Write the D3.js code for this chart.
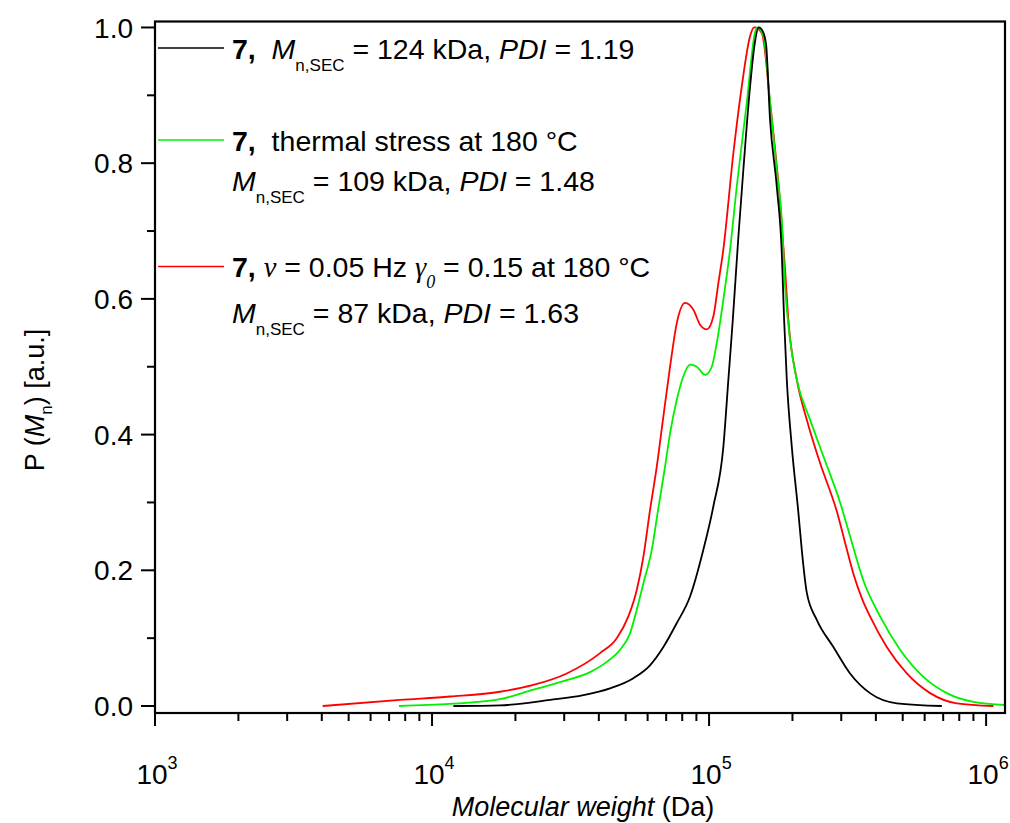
<!DOCTYPE html>
<html><head><meta charset="utf-8">
<script src="https://cdn.jsdelivr.net/npm/d3@7"></script>
<style>body{margin:0;background:#fff}svg text{font-family:"Liberation Sans",Arial,sans-serif;fill:#000}</style>
</head><body>
<svg id="chart" width="1010" height="823"></svg>
<script>
// ---- data (molecular weight in Da, normalized P) ----
const blackMW = [11940,17600,26700,35200,43900,53300,61200,68400,76400,85300,95300,103600,112600,117400,121800,127600,133000,140600,146000,151000,156000,160600,166000,175500,183000,186600,190800,198900,210200,216100,225300,244800,281000,322800,381000,476000,692000];
const blackP  = [0.0,0.001,0.009,0.016,0.026,0.041,0.060,0.087,0.122,0.161,0.230,0.294,0.382,0.481,0.569,0.692,0.791,0.913,0.975,1.0,0.995,0.975,0.864,0.766,0.668,0.569,0.481,0.382,0.284,0.230,0.167,0.127,0.087,0.048,0.019,0.004,0.0];

const greenMW = [7600,11610,17600,23210,30640,37190,42730,47720,51860,54830,57930,62110,65450,69370,72310,76440,80770,85390,90280,96740,102260,106600,112600,119100,125900,136800,146600,149400,157100,166100,175500,183000,188100,196000,207300,231500,258600,297100,328200,360600,414300,489200,593700,721500,900000,1171000];
const greenP  = [0.0,0.003,0.010,0.024,0.038,0.050,0.065,0.083,0.107,0.142,0.181,0.230,0.289,0.353,0.402,0.451,0.486,0.503,0.500,0.488,0.500,0.535,0.599,0.673,0.766,0.889,0.993,1.0,0.987,0.889,0.791,0.717,0.618,0.540,0.481,0.422,0.368,0.300,0.240,0.185,0.132,0.083,0.043,0.019,0.006,0.0015];

const redMW = [4030,7664,11610,17600,23210,30640,40420,46430,51130,54830,57930,61230,64760,68400,72310,76440,81910,87760,92800,98100,103600,108000,112600,122400,131200,140600,145400,155000,166100,180400,188100,193300,207300,225300,251600,289100,312300,331800,356700,381200,437900,517300,627900,784000,1063000];
const redP  = [0.0,0.009,0.014,0.021,0.031,0.048,0.078,0.100,0.132,0.171,0.220,0.289,0.353,0.427,0.500,0.564,0.594,0.584,0.562,0.555,0.574,0.623,0.673,0.815,0.913,0.987,1.0,0.992,0.889,0.742,0.643,0.569,0.481,0.422,0.358,0.287,0.235,0.195,0.158,0.132,0.087,0.048,0.019,0.004,0.0];

const yTicks = [0.0,0.2,0.4,0.6,0.8,1.0];
const yMinor = [0.1,0.3,0.5,0.7,0.9];
const xDecades = [3,4,5,6];

const series = [
  {mw: redMW,   p: redP,   color: "#ff0000"},
  {mw: greenMW, p: greenP, color: "#00f000"},
  {mw: blackMW, p: blackP, color: "#000000"}
];

const svg = d3.select("#chart");
const L = 155, R = 1005, T = 21.5, B = 713;
const x = d3.scaleLog().domain([1000, 1.17e6]).range([L, R]);
const y = d3.scaleLinear().domain([-0.0103, 1.0088]).range([B, T]);

// curves
const line = d3.line().x(d => x(d[0])).y(d => y(d[1])).curve(d3.curveMonotoneX);
series.forEach(s => {
  svg.append("path").datum(s.mw.map((m,i)=>[m, s.p[i]]))
    .attr("d", line).attr("fill","none").attr("stroke", s.color).attr("stroke-width", 1.8);
});

// frame
svg.append("rect").attr("x",L).attr("y",T).attr("width",R-L).attr("height",B-T)
  .attr("fill","none").attr("stroke","#000").attr("stroke-width",2.2);

// y ticks
yTicks.forEach(v => {
  svg.append("line").attr("x1",L-14).attr("x2",L).attr("y1",y(v)).attr("y2",y(v)).attr("stroke","#000").attr("stroke-width",2);
  svg.append("text").attr("x",L-22).attr("y",y(v)).attr("dy","0.36em").attr("text-anchor","end")
    .style("font-size","28px").text(v.toFixed(1));
});
yMinor.forEach(v => {
  svg.append("line").attr("x1",L-8).attr("x2",L).attr("y1",y(v)).attr("y2",y(v)).attr("stroke","#000").attr("stroke-width",2);
});
// x ticks
xDecades.forEach(d => {
  const v = Math.pow(10,d);
  svg.append("line").attr("x1",x(v)).attr("x2",x(v)).attr("y1",B).attr("y2",B+13).attr("stroke","#000").attr("stroke-width",2);
  const t = svg.append("text").attr("x",x(v)+2).attr("y",784).attr("text-anchor","middle").style("font-size","28px");
  t.append("tspan").text("10");
  t.append("tspan").attr("dy",-15).style("font-size","18px").text(String(d));
  if (d < 6) {
    for (let k=2;k<=9;k++){
      const mv = k*v;
      svg.append("line").attr("x1",x(mv)).attr("x2",x(mv)).attr("y1",B).attr("y2",B+8).attr("stroke","#000").attr("stroke-width",2);
    }
  }
});

// axis titles
const xt = svg.append("text").attr("x",583).attr("y",816).attr("text-anchor","middle").style("font-size","27px");
xt.append("tspan").style("font-style","italic").text("Molecular weight");
xt.append("tspan").text(" (Da)");

const yt = svg.append("text").attr("transform","translate(44,400) rotate(-90)").attr("text-anchor","middle").style("font-size","27px");
yt.append("tspan").text("P (");
yt.append("tspan").style("font-style","italic").text("M");
yt.append("tspan").attr("dy",8).style("font-size","17px").text("n");
yt.append("tspan").attr("dy",-8).text(") [a.u.]");

// legend
const FS = 28.5, SUB = 17;
const SERIF = "'Liberation Serif','Times New Roman',serif";
function mnsec(t){
  t.append("tspan").style("font-style","italic").text("M");
  t.append("tspan").attr("dy",12).style("font-size",SUB+"px").text("n,SEC");
  t.append("tspan").attr("dy",-12).text("\u00a0= ");
}
function legLine(yy, color){
  svg.append("line").attr("x1",158).attr("x2",224).attr("y1",yy).attr("y2",yy).attr("stroke",color).attr("stroke-width",1.6);
}
const LX = 232;
legLine(48,"#000");
let t1 = svg.append("text").attr("x",LX).attr("y",59).style("font-size",FS+"px");
t1.append("tspan").style("font-weight","bold").text("7,\u00a0\u00a0");
mnsec(t1);
t1.append("tspan").text("124 kDa, ");
t1.append("tspan").style("font-style","italic").text("PDI");
t1.append("tspan").text(" = 1.19");

legLine(140,"#00f000");
let t2 = svg.append("text").attr("x",LX).attr("y",151).style("font-size",FS+"px");
t2.append("tspan").style("font-weight","bold").text("7,\u00a0\u00a0");
t2.append("tspan").text("thermal stress at 180 \u00b0C");
let t3 = svg.append("text").attr("x",LX).attr("y",191).style("font-size",FS+"px");
mnsec(t3);
t3.append("tspan").text("109 kDa, ");
t3.append("tspan").style("font-style","italic").text("PDI");
t3.append("tspan").text(" = 1.48");

legLine(266.5,"#ff0000");
let t4 = svg.append("text").attr("x",LX).attr("y",277).style("font-size",FS+"px");
t4.append("tspan").style("font-weight","bold").text("7,\u00a0");
t4.append("tspan").style("font-family",SERIF).style("font-style","italic").text("\u03bd");
t4.append("tspan").text(" = 0.05 Hz ");
t4.append("tspan").style("font-family",SERIF).style("font-style","italic").text("\u03b3");
t4.append("tspan").attr("dy",11).style("font-family",SERIF).style("font-style","italic").style("font-size","18px").text("0");
t4.append("tspan").attr("dy",-11).text(" = 0.15 at 180 \u00b0C");
let t5 = svg.append("text").attr("x",LX).attr("y",323).style("font-size",FS+"px");
mnsec(t5);
t5.append("tspan").text("87 kDa, ");
t5.append("tspan").style("font-style","italic").text("PDI");
t5.append("tspan").text(" = 1.63");
</script>
</body></html>
